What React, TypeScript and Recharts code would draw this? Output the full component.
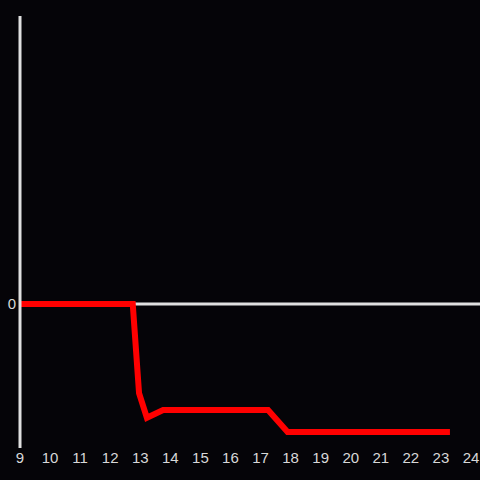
import React from 'react';
import { LineChart, Line, XAxis, YAxis, ReferenceLine } from 'recharts';

const hours = [9, 12.75, 12.96, 13.22, 13.76, 17.25, 17.9, 23.3];
const values = [0, 0, -0.62, -0.79, -0.736, -0.736, -0.889, -0.889];
const xTicks = [9, 10, 11, 12, 13, 14, 15, 16, 17, 18, 19, 20, 21, 22, 23, 24];
const yTicks = [0];

const data = hours.map((h, i) => ({ x: h, v: values[i] }));

const tickFont = { fill: '#d8d8d8', fontSize: 15, fontFamily: 'Liberation Sans, Arial, sans-serif' };

export default function App() {
  return (
    <div style={{ position: 'absolute', left: 0, top: 0, width: 480, height: 480, background: '#050408' }}>
      <LineChart width={480} height={480} data={data} margin={{ top: 16, right: 0, left: 0, bottom: 0 }}>
        <XAxis
          type="number"
          dataKey="x"
          domain={[9, 24.3]}
          ticks={xTicks}
          interval={0}
          axisLine={false}
          tickLine={false}
          height={32}
          tick={tickFont}
          tickSize={4}
          tickMargin={0}
        />
        <YAxis
          type="number"
          domain={[-1, 2]}
          ticks={yTicks}
          width={20}
          axisLine={{ stroke: '#e0e0e0', strokeWidth: 3 }}
          tickLine={false}
          tickSize={2}
          tickMargin={2}
          tick={tickFont}
        />
        <ReferenceLine y={0} stroke="#e0e0e0" strokeWidth={3} />
        <Line
          type="linear"
          dataKey="v"
          stroke="#ff0000"
          strokeWidth={6}
          dot={false}
          isAnimationActive={false}
        />
      </LineChart>
    </div>
  );
}
